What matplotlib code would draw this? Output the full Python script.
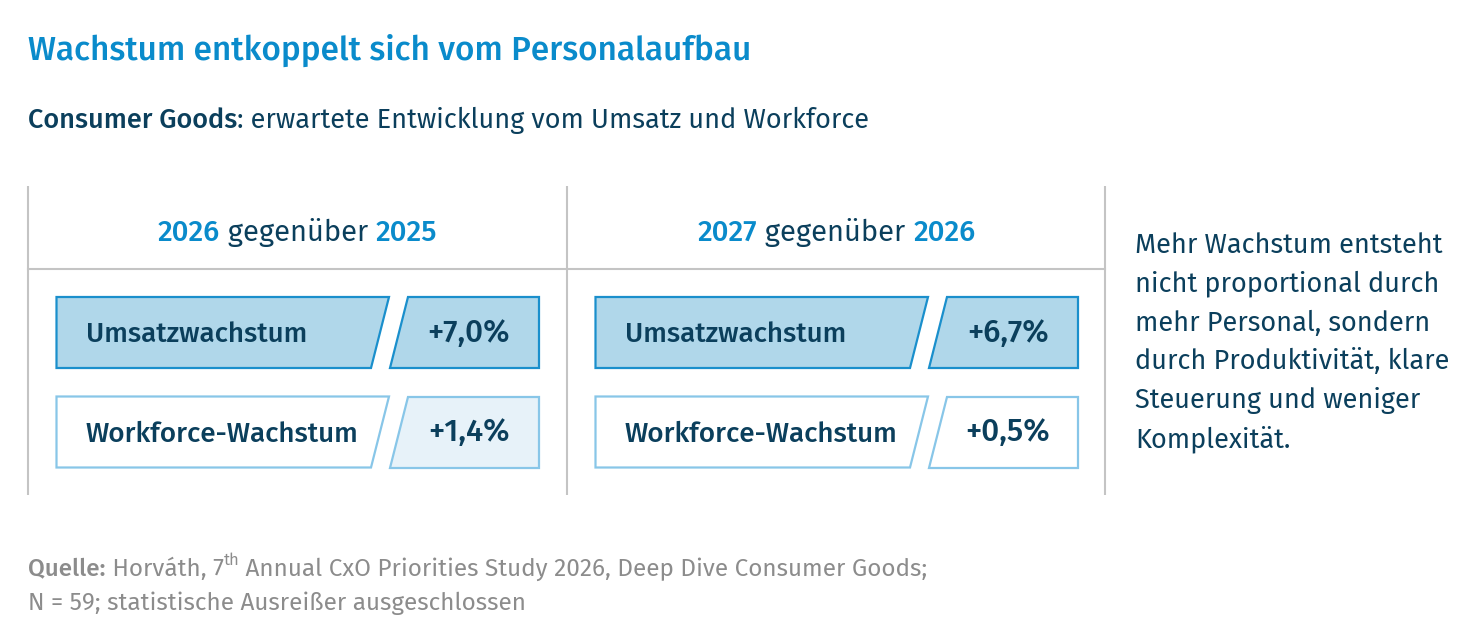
import matplotlib
matplotlib.use('Agg')
import matplotlib.pyplot as plt
from matplotlib.patches import Polygon

plt.rcParams['font.family'] = ['Fira Sans', 'DejaVu Sans']

# Daten
title = 'Wachstum entkoppelt sich vom Personalaufbau'
subtitle_bold = 'Consumer Goods'
subtitle_rest = ': erwartete Entwicklung vom Umsatz und Workforce'
years_a = ['2026', '2027']
years_b = ['2025', '2026']
metrics = ['Umsatzwachstum', 'Workforce-Wachstum']
umsatz = [7.0, 6.7]
workforce = [1.4, 0.5]
side_text = ['Mehr Wachstum entsteht', 'nicht proportional durch',
             'mehr Personal, sondern', 'durch Produktivität, klare',
             'Steuerung und weniger', 'Komplexität.']

# Farben
BLUE = '#0A8BCB'
DARK = '#0B3F5C'
GRAY = '#8C8C8C'
LINE = '#C4C4C4'
FILL_U = '#B0D7EA'
EDGE_U = '#1A8FCC'
EDGE_W = '#88C6E8'
FILL_W = ['#E7F2F9', 'white']

W, H = 1472, 638
fig = plt.figure(figsize=(W / 100, H / 100), dpi=100)
ax = fig.add_axes([0, 0, 1, 1])
ax.set_xlim(0, W)
ax.set_ylim(H, 0)
ax.axis('off')
renderer = fig.canvas.get_renderer()


def text_width(s, **kw):
    t = ax.text(0, 0, s, **kw)
    bb = t.get_window_extent(renderer)
    t.remove()
    return bb.width


def runs(x, y, parts, ha='left'):
    # parts: Liste von (text, dict) - nebeneinander gesetzt
    widths = [text_width(s, **kw) for s, kw in parts]
    total = sum(widths)
    if ha == 'center':
        x = x - total / 2
    for (s, kw), w in zip(parts, widths):
        ax.text(x, y, s, va='baseline', ha='left', **kw)
        x += w


# Titel
ax.text(28, 60, title, fontsize=24, color=BLUE, va='baseline', fontweight='medium')
runs(28, 128, [(subtitle_bold, dict(fontsize=19.5, color=DARK, fontweight='medium')),
               (subtitle_rest, dict(fontsize=19.5, color=DARK))])

# Rahmenlinien
for xl in [28, 567, 1105]:
    ax.plot([xl, xl], [186, 495], color=LINE, lw=1.5, solid_capstyle='butt')
ax.plot([28, 1105], [269, 269], color=LINE, lw=1.5)

panel_w = 539
slant = 18
for i in range(2):
    x0 = 28 + i * panel_w
    hs = 21
    runs(x0 + panel_w / 2, 241,
         [(years_a[i], dict(fontsize=hs, color=BLUE, fontweight='medium')),
          (' gegenüber ', dict(fontsize=hs, color=DARK)),
          (years_b[i], dict(fontsize=hs, color=BLUE, fontweight='medium'))],
         ha='center')

    vals = [umsatz[i], workforce[i]]
    for r in range(2):
        top = 297 + r * 99.5
        bot = top + 71
        if r == 0:
            fl, fv, ec = FILL_U, FILL_U, EDGE_U
        else:
            fl, fv, ec = 'white', FILL_W[i], EDGE_W
        lx0 = x0 + 28.5
        lx1 = x0 + 361
        ax.add_patch(Polygon([[lx0, top], [lx1, top], [lx1 - slant, bot], [lx0, bot]],
                             closed=True, facecolor=fl, edgecolor=ec, lw=1.6))
        vx0 = x0 + 379.5
        vx1 = x0 + 511
        ax.add_patch(Polygon([[vx0, top], [vx1, top], [vx1, bot], [vx0 - slant, bot]],
                             closed=True, facecolor=fv, edgecolor=ec, lw=1.6))
        ax.text(x0 + 58, bot - 26, metrics[r], fontsize=20, color=DARK,
                fontweight='medium', va='baseline', ha='left')
        lab = f'+{vals[r]:.1f}%'.replace('.', ',')
        ax.text((vx0 + vx1 - slant / 2) / 2, bot - 26, lab, fontsize=22.5, color=DARK,
                fontweight='medium', va='baseline', ha='center')

# Seitentext
for k, line in enumerate(side_text):
    ax.text(1135, 253 + k * 38.8, line, fontsize=19.5, color=DARK, va='baseline')

# Quelle
ss = 17.5
runs(28, 576, [('Quelle:', dict(fontsize=ss, color=GRAY, fontweight='medium')),
               (' Horváth, 7', dict(fontsize=ss, color=GRAY))])
x7 = 28 + text_width('Quelle:', fontsize=ss, fontweight='medium') + \
    text_width(' Horváth, 7', fontsize=ss)
ax.text(x7, 565, 'th', fontsize=12, color=GRAY, va='baseline')
x8 = x7 + text_width('th', fontsize=12)
ax.text(x8, 576, ' Annual CxO Priorities Study 2026, Deep Dive Consumer Goods;',
        fontsize=ss, color=GRAY, va='baseline')
ax.text(28, 610, 'N = 59; statistische Ausreißer ausgeschlossen', fontsize=ss,
        color=GRAY, va='baseline')

fig.savefig('out.png', dpi=100)
